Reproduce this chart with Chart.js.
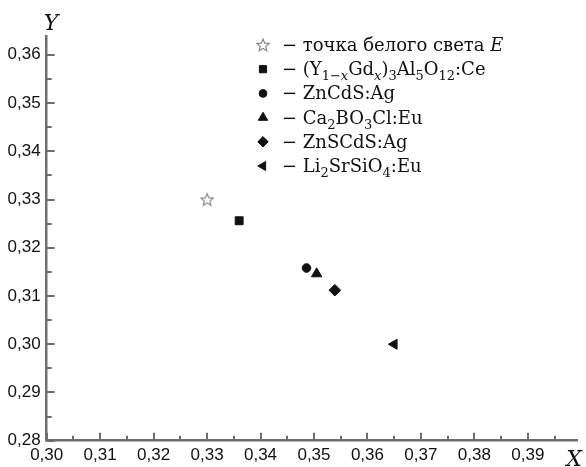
<!DOCTYPE html>
<html>
<head>
<meta charset="utf-8">
<script src="https://cdn.jsdelivr.net/npm/chart.js@4"></script>
<style>
  html, body { margin: 0; padding: 0; background: #fff; }
  canvas { display: block; }
</style>
</head>
<body>
<canvas id="chart" width="586" height="467"></canvas>
<script>
// chromaticity coordinates
const xValues = [0.330, 0.336, 0.3486, 0.3505, 0.3539, 0.365];
const yValues = [0.330, 0.3256, 0.3158, 0.3146, 0.3112, 0.300];

// legend labels, split into pieces: n = normal, s = subscript, i = italic, si = italic subscript
const seriesLabels = [
  [['точка белого света ', 'n'], ['E', 'i']],
  [['(Y', 'n'], ['1−', 's'], ['x', 'si'], ['Gd', 'n'], ['x', 'si'], [')', 'n'], ['3', 's'], ['Al', 'n'], ['5', 's'], ['O', 'n'], ['12', 's'], [':Ce', 'n']],
  [['ZnCdS:Ag', 'n']],
  [['Ca', 'n'], ['2', 's'], ['BO', 'n'], ['3', 's'], ['Cl:Eu', 'n']],
  [['ZnSCdS:Ag', 'n']],
  [['Li', 'n'], ['2', 's'], ['SrSiO', 'n'], ['4', 's'], [':Eu', 'n']]
];

const xTicks = [0.30, 0.305, 0.31, 0.315, 0.32, 0.325, 0.33, 0.335, 0.34, 0.345, 0.35, 0.355, 0.36, 0.365, 0.37, 0.375, 0.38, 0.385, 0.39, 0.395];
const yTicks = [0.28, 0.285, 0.29, 0.295, 0.30, 0.305, 0.31, 0.315, 0.32, 0.325, 0.33, 0.335, 0.34, 0.345, 0.35, 0.355, 0.36];

// hollow five-point star for the white point
function makeStar() {
  const c = document.createElement('canvas');
  c.width = 16;
  c.height = 16;
  const g = c.getContext('2d');
  g.beginPath();
  for (let i = 0; i < 10; i++) {
    const r = i % 2 === 0 ? 6.5 : 2.9;
    const a = -Math.PI / 2 + i * Math.PI / 5;
    const px = 8 + Math.cos(a) * r;
    const py = 8.5 + Math.sin(a) * r;
    if (i === 0) g.moveTo(px, py); else g.lineTo(px, py);
  }
  g.closePath();
  g.fillStyle = '#fff';
  g.fill();
  g.strokeStyle = '#808080';
  g.lineWidth = 1.1;
  g.stroke();
  return c;
}

const markers = [
  { pointStyle: makeStar(), radius: 8, rotation: 0 },
  { pointStyle: 'rect', radius: 5.6, rotation: 0 },
  { pointStyle: 'circle', radius: 4.3, rotation: 0 },
  { pointStyle: 'triangle', radius: 6, rotation: 0 },
  { pointStyle: 'rectRot', radius: 5.8, rotation: 0 },
  { pointStyle: 'triangle', radius: 5.8, rotation: -90 }
];

const axisColor = '#6e6e6e';
const isMajor = (v) => Math.abs(v * 100 - Math.round(v * 100)) < 1e-6;
const fmt = (v) => (isMajor(v) ? v.toFixed(2).replace('.', ',') : '');

const datasets = xValues.map((x, i) => ({
  data: [{ x: x, y: yValues[i] }],
  pointStyle: markers[i].pointStyle,
  pointRadius: markers[i].radius,
  rotation: markers[i].rotation,
  backgroundColor: '#111',
  borderColor: '#111',
  borderWidth: 1
}));

// ticks drawn inward from the axis lines, longer on labelled values
const inwardTicks = {
  id: 'inwardTicks',
  afterDatasetsDraw(chart) {
    const ctx = chart.ctx;
    const xs = chart.scales.x;
    const ys = chart.scales.y;
    const area = chart.chartArea;
    ctx.save();
    ctx.strokeStyle = axisColor;
    ctx.lineWidth = 2;
    xTicks.forEach((v) => {
      const px = Math.round(xs.getPixelForValue(v));
      const len = isMajor(v) ? 8 : 5;
      ctx.beginPath();
      ctx.moveTo(px, area.bottom);
      ctx.lineTo(px, area.bottom - len);
      ctx.stroke();
    });
    yTicks.forEach((v) => {
      const py = Math.round(ys.getPixelForValue(v));
      const len = isMajor(v) ? 8 : 5;
      ctx.beginPath();
      ctx.moveTo(area.left, py);
      ctx.lineTo(area.left + len, py);
      ctx.stroke();
    });

    // axis names
    ctx.fillStyle = '#111';
    ctx.font = 'italic 22px "DejaVu Serif", serif';
    ctx.textAlign = 'center';
    ctx.textBaseline = 'alphabetic';
    ctx.fillText('Y', 51, 30);
    ctx.fillText('X', 574, 466);
    ctx.restore();
  }
};

// legend with subscripts and italics
const richLegend = {
  id: 'richLegend',
  afterDraw(chart) {
    const ctx = chart.ctx;
    const rowY = 45;
    const rowGap = 24.2;
    const fontN = '18px "DejaVu Serif", serif';
    const fontI = 'italic 18px "DejaVu Serif", serif';
    const fontS = '13px "DejaVu Serif", serif';
    const fontSI = 'italic 13px "DejaVu Serif", serif';
    ctx.save();
    seriesLabels.forEach((parts, i) => {
      const y = rowY + i * rowGap;
      const m = markers[i];
      ctx.fillStyle = '#111';
      ctx.strokeStyle = '#111';
      Chart.helpers.drawPoint(ctx, {
        pointStyle: m.pointStyle,
        radius: i === 0 ? 8 : m.radius * 0.9,
        rotation: m.rotation,
        borderWidth: 1
      }, 263, y);
      ctx.fillStyle = '#111';
      ctx.textAlign = 'left';
      ctx.textBaseline = 'alphabetic';
      const base = y + 6;
      let x = 282;
      ctx.font = fontN;
      ctx.fillText('− ', x, base);
      x += ctx.measureText('− ').width;
      parts.forEach(([txt, st]) => {
        let dy = 0;
        if (st === 'n') ctx.font = fontN;
        else if (st === 'i') ctx.font = fontI;
        else if (st === 's') { ctx.font = fontS; dy = 5; }
        else { ctx.font = fontSI; dy = 5; }
        ctx.fillText(txt, x, base + dy);
        x += ctx.measureText(txt).width;
      });
    });
    ctx.restore();
  }
};

const tickFont = { family: '"Liberation Sans Narrow", "Arial Narrow", "Liberation Sans", sans-serif', size: 17 };

new Chart(document.getElementById('chart').getContext('2d'), {
  type: 'scatter',
  data: { datasets: datasets },
  options: {
    responsive: false,
    animation: false,
    devicePixelRatio: 1,
    layout: { padding: { top: 36, right: 0, bottom: 0, left: 0 } },
    plugins: {
      legend: { display: false },
      tooltip: { enabled: false }
    },
    scales: {
      x: {
        type: 'linear',
        min: 0.30,
        max: 0.3992,
        afterBuildTicks(scale) {
          scale.ticks = xTicks.map((v) => ({ value: v }));
        },
        afterFit(scale) {
          scale.height = 26.3;
        },
        grid: { display: false, drawTicks: false },
        border: { display: true, color: axisColor, width: 2.5 },
        ticks: {
          autoSkip: false,
          maxRotation: 0,
          padding: 4,
          color: '#111',
          font: tickFont,
          callback: (v) => fmt(v)
        }
      },
      y: {
        type: 'linear',
        min: 0.28,
        max: 0.3639,
        afterBuildTicks(scale) {
          scale.ticks = yTicks.map((v) => ({ value: v }));
        },
        afterFit(scale) {
          scale.width = 46.7;
        },
        grid: { display: false, drawTicks: false },
        border: { display: true, color: axisColor, width: 2.5 },
        ticks: {
          autoSkip: false,
          padding: 6,
          color: '#111',
          font: tickFont,
          callback: (v) => fmt(v)
        }
      }
    }
  },
  plugins: [inwardTicks, richLegend]
});
</script>
</body>
</html>
